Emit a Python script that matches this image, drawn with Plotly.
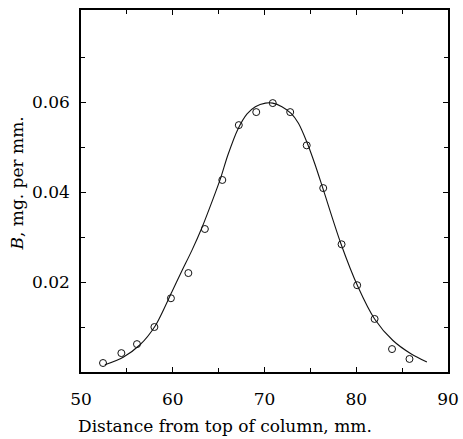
import plotly.graph_objects as go

# Measured points (open circles)
point_x = [52.4, 54.4, 56.1, 58.0, 59.8, 61.7, 63.5, 65.4, 67.2, 69.1, 70.9, 72.8, 74.6, 76.4, 78.4, 80.1, 82.0, 83.9, 85.8]
point_y = [0.0020, 0.0042, 0.0062, 0.0100, 0.0164, 0.0220, 0.0318, 0.0427, 0.0549, 0.0578, 0.0598, 0.0578, 0.0504, 0.0409, 0.0284, 0.0193, 0.0118, 0.0051, 0.0029]

# Smooth fitted curve
curve_x = [52.6, 54.6, 56.4, 58.1, 59.9, 61.0, 62.1, 63.2, 64.3, 65.2, 66.0, 67.1, 68.1, 69.0, 70.1, 70.9, 71.9, 72.9, 73.7, 74.6, 75.5, 76.4, 78.3, 80.2, 82.0, 84.0, 86.0, 87.7]
curve_y = [0.0016, 0.0033, 0.0060, 0.0103, 0.0178, 0.0225, 0.0271, 0.0322, 0.0380, 0.0430, 0.0482, 0.0540, 0.0574, 0.0590, 0.0598, 0.0598, 0.0590, 0.0575, 0.0553, 0.0512, 0.0462, 0.0406, 0.0287, 0.0189, 0.0118, 0.0070, 0.0040, 0.0022]

x_ticks = [50, 60, 70, 80, 90]
x_tick_labels = ["50", "60", "70", "80", "90"]
x_minor = [55, 65, 75, 85]
y_ticks = [0.02, 0.04, 0.06]
y_tick_labels = ["0.02", "0.04", "0.06"]
y_minor = [0.01, 0.03, 0.05, 0.07]

FONT = "DejaVu Serif"

fig = go.Figure()
fig.add_trace(go.Scatter(x=curve_x, y=curve_y, mode="lines",
                         line=dict(color="#111", width=1.1, shape="spline", smoothing=0.8),
                         hoverinfo="skip", showlegend=False))
fig.add_trace(go.Scatter(x=point_x, y=point_y, mode="markers",
                         marker=dict(symbol="circle-open", size=7, color="#111", line=dict(width=1)),
                         showlegend=False))

axis_common = dict(showgrid=False, zeroline=False, showline=True, linecolor="black", linewidth=1.5,
                   mirror="ticks", ticks="inside", ticklen=5, tickwidth=1, tickcolor="black",
                   automargin=False,
                   tickfont=dict(family=FONT, size=17, color="black"))

fig.update_xaxes(range=[50, 90], tickvals=x_ticks, ticktext=x_tick_labels,
                 minor=dict(tickvals=x_minor, ticks="inside", ticklen=4, tickcolor="black"),
                 ticklabelstandoff=11, **axis_common)
fig.update_yaxes(range=[0, 0.0805], tickvals=y_ticks, ticktext=y_tick_labels,
                 minor=dict(tickvals=y_minor, ticks="inside", ticklen=4, tickcolor="black"),
                 ticklabelstandoff=6, **axis_common)

fig.add_annotation(text="Distance from top of column, mm.", xref="paper", yref="paper",
                   x=0.392, y=-0.148, xanchor="center", yanchor="middle", showarrow=False,
                   font=dict(family=FONT, size=17, color="black"))
fig.add_annotation(text="<i>B</i>, mg. per mm.", xref="paper", yref="paper",
                   x=-0.175, y=0.52, xanchor="center", yanchor="middle", textangle=-90, showarrow=False,
                   font=dict(family=FONT, size=17, color="black"))

fig.update_layout(width=463, height=439, margin=dict(l=81, r=15, t=10, b=67),
                  paper_bgcolor="white", plot_bgcolor="white")

fig.write_html("out.html", config={"displayModeBar": False},
               post_script="document.body.style.margin='0';")
